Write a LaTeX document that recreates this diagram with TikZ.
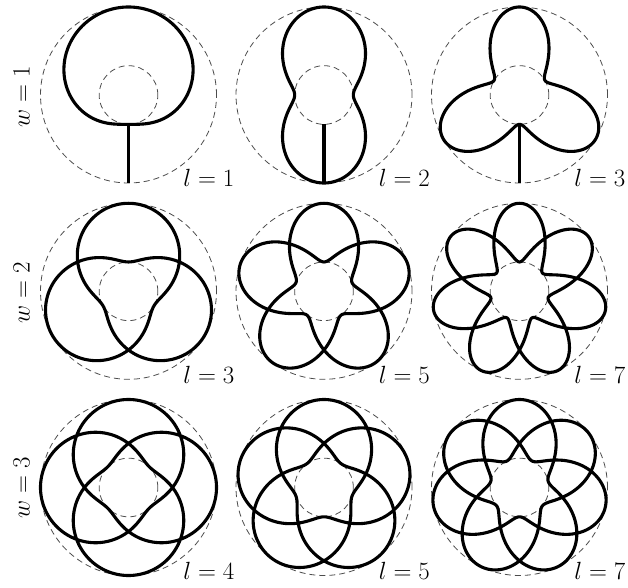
\documentclass[tikz,border=0pt]{standalone}
\newcommand\rosecell[5]{%
  % #1 cx, #2 cy, #3 w, #4 l, #5 label name
  \begin{scope}[shift={(#1,#2)}]
    \draw[guide] (0,0) circle[radius=88];
    \draw[guide] (0,0) circle[radius=29.33];
    \draw[curve] plot[variable=\t, domain=0:360*#3, samples=1441]
      ({(58.67+29.33*cos(#4*(\t-90)/#3))*cos(\t)},
       {(58.67+29.33*cos(#4*(\t-90)/#3))*sin(\t)}) -- cycle;
    \node[llab] (#5) at (106,-92) {$l=#4$};
  \end{scope}}
\begin{document}
\begin{tikzpicture}[x=1pt,y=1pt]
\tikzset{
  curve/.style={line width=3.1pt, line join=round},
  guide/.style={line width=0.8pt, black!70, dash pattern=on 6pt off 4pt},
  llab/.style={font=\fontsize{24.88}{30}\selectfont, anchor=base east, inner sep=0pt},
  wlab/.style={font=\fontsize{24.88}{30}\selectfont, rotate=90, anchor=base, inner sep=0pt}
}
\useasboundingbox (0,0) rectangle (628,587);
% row 1 : w = 1
\rosecell{128.5}{492}{1}{1}{la}
\rosecell{324}{492}{1}{2}{lb}
\rosecell{519.5}{492}{1}{3}{lc}
\coordinate (ia) at (128.5,462.67); \coordinate (oa) at (128.5,404);
\coordinate (ib) at (324,462.67);   \coordinate (ob) at (324,404);
\coordinate (ic) at (519.5,462.67); \coordinate (oc) at (519.5,404);
\draw[curve] (ia) -- (oa);
\draw[curve] (ib) -- (ob);
\draw[curve] (ic) -- (oc);
% row 2 : w = 2
\rosecell{128.5}{295.7}{2}{3}{ld}
\rosecell{324}{295.7}{2}{5}{le}
\rosecell{519.5}{295.7}{2}{7}{lf}
% row 3 : w = 3
\rosecell{128.5}{99.5}{3}{4}{lg}
\rosecell{324}{99.5}{3}{5}{lh}
\rosecell{519.5}{99.5}{3}{7}{li}
% row labels
\node[wlab] (w1) at (29.5,490) {$w=1$};
\node[wlab] (w2) at (29.5,294) {$w=2$};
\node[wlab] (w3) at (29.5,99.5) {$w=3$};
\end{tikzpicture}
\end{document}
